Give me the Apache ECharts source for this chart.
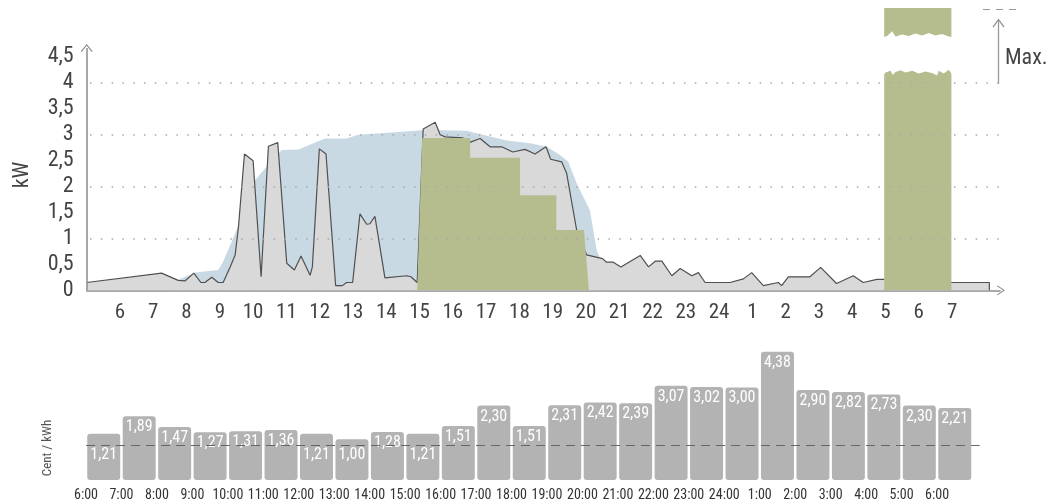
<!DOCTYPE html>
<html><head><meta charset="utf-8">
<script src="https://cdn.jsdelivr.net/npm/echarts@6/dist/echarts.min.js"></script>
<style>html,body{margin:0;padding:0;background:#fff}#c{width:1062px;height:502px}</style>
</head><body><div id="c"></div>
<script>
// ---------- data ----------
var FONT = "'Liberation Sans Narrow','Roboto Condensed','Open Sans',sans-serif";
// top chart: hours (5 = 5:00 day 1, 29 = 5:00 next day), kW
var consumption = [[5.0,0.15],[7.25,0.33],[7.75,0.19],[7.95,0.18],[8.22,0.33],[8.43,0.15],[8.55,0.15],[8.76,0.25],[8.95,0.15],[9.1,0.15],[9.31,0.45],[9.46,0.68],[9.56,1.22],[9.74,2.62],[10.0,2.49],[10.24,0.26],[10.46,2.77],[10.74,2.84],[11.01,0.52],[11.24,0.39],[11.44,0.66],[11.71,0.29],[11.78,0.45],[11.99,2.72],[12.19,2.62],[12.48,0.09],[12.68,0.09],[12.81,0.15],[12.99,0.15],[13.21,1.47],[13.41,1.27],[13.51,1.28],[13.66,1.42],[13.96,0.24],[14.62,0.28],[14.74,0.26],[14.93,0.15],[15.11,3.1],[15.47,3.23],[15.62,2.99],[15.77,2.95],[16.3,2.93],[16.53,2.85],[16.82,2.92],[17.12,2.76],[17.47,2.76],[17.8,2.66],[18.17,2.71],[18.47,2.62],[18.8,2.76],[18.94,2.52],[19.27,2.47],[19.42,2.25],[19.72,1.16],[20.02,0.68],[20.5,0.61],[20.62,0.54],[20.82,0.54],[21.05,0.45],[21.63,0.67],[21.88,0.45],[22.08,0.56],[22.28,0.56],[22.58,0.28],[22.83,0.42],[23.18,0.28],[23.38,0.34],[23.58,0.15],[24.33,0.15],[24.73,0.22],[24.98,0.34],[25.33,0.09],[25.78,0.15],[25.88,0.09],[26.08,0.26],[26.73,0.26],[27.05,0.44],[27.53,0.13],[28.03,0.28],[28.33,0.15],[28.74,0.21],[28.99,0.21],[29.2,0.15],[30.97,0.15],[32.12,0.15],[32.12,0]];
var pvForecast = [[7.6,0],[7.65,0.18],[8.26,0.34],[8.95,0.39],[9.1,0.55],[9.5,1.16],[10.06,2.12],[10.46,2.42],[10.86,2.7],[11.36,2.71],[12.16,2.92],[12.81,2.92],[13.16,2.99],[14.06,3.03],[15.07,3.08],[15.62,3.08],[16.41,3.07],[17.02,2.97],[17.62,2.88],[18.32,2.83],[18.82,2.76],[19.22,2.6],[19.47,2.47],[19.72,2.06],[19.92,1.8],[20.12,1.54],[20.22,1.16],[20.32,0.78],[20.42,0.62],[20.5,0]];
var loadShift = [[14.93,0],[15.08,2.93],[16.52,2.93],[16.52,2.55],[18.02,2.55],[18.02,1.83],[19.11,1.83],[19.11,1.16],[19.94,1.16],[20.09,0]];
var nightCharge = [[28.96,0],[28.96,5.43],[30.98,5.43],[30.98,0]];
var breakLow  = [[28.9,4.1],[29.0,4.19],[29.15,4.22],[29.22,4.14],[29.3,4.2],[29.45,4.23],[29.6,4.19],[29.8,4.22],[30.0,4.17],[30.2,4.21],[30.4,4.18],[30.55,4.13],[30.6,4.22],[30.75,4.17],[30.9,4.24],[31.05,4.1]];
var breakHigh = [[28.9,4.86],[29.05,4.89],[29.2,4.98],[29.3,4.88],[29.5,4.92],[29.7,4.89],[29.9,4.94],[30.1,4.9],[30.3,4.95],[30.5,4.9],[30.7,4.93],[30.9,4.88],[31.05,4.86]];
var kwTicks = [0,0.5,1,1.5,2,2.5,3,3.5,4,4.5];
var kwGrid = [1,2,3,4];
var hourTicks = [6,7,8,9,10,11,12,13,14,15,16,17,18,19,20,21,22,23,24,25,26,27,28,29,30,31];
// bottom chart: price per hour
var priceHours = ['6:00','7:00','8:00','9:00','10:00','11:00','12:00','13:00','14:00','15:00','16:00','17:00','18:00','19:00','20:00','21:00','22:00','23:00','24:00','1:00','2:00','3:00','4:00','5:00','6:00'];
var prices = [1.21,1.89,1.47,1.27,1.31,1.36,1.21,1.00,1.28,1.21,1.51,2.30,1.51,2.31,2.42,2.39,3.07,3.02,3.00,4.38,2.90,2.82,2.73,2.30,2.21];
var priceRef = 0.78;
var PRICE_MIN = -0.577;

var chevron = 'path://M0,9 L6,0 L12,9 L11,9.8 L6,2.2 L1,9.8 Z';
var AX = '#8c8c8c';

var chart = echarts.init(document.getElementById('c'), null, {renderer:'canvas'});
var fmt = function(v){ return String(v).replace('.', ','); };

var option = {
  animation: false,
  grid: [
    {left: 86.7, right: 62, top: 4.3, bottom: 211.7},
    {left: 86, right: 82.4, top: 335.7, bottom: 21.3}
  ],
  xAxis: [
    {gridIndex:0, type:'value', min:5, max:32.44, interval:1,
     axisLine:{show:true, lineStyle:{color:AX, width:1.5}, symbol:['none', chevron], symbolSize:[12,8], symbolOffset:[0,1]},
     axisTick:{show:true, inside:true, length:7, lineStyle:{color:AX, width:1.2}, customValues: hourTicks},
     axisLabel:{show:true, customValues: hourTicks, margin:12, color:'#444', fontSize:21, fontFamily:FONT,
       formatter:function(v){ return String(v > 24 ? v - 24 : v); }},
     splitLine:{show:false}},
    {gridIndex:1, type:'value', min:0, max:25.2, interval:1,
     axisLine:{show:false}, axisTick:{show:false}, splitLine:{show:false},
     axisLabel:{show:true, customValues: priceHours.map(function(_,i){return i;}), margin:8, color:'#333', fontSize:14, fontFamily:FONT,
       formatter:function(v){ return priceHours[v] || ''; }}}
  ],
  yAxis: [
    {gridIndex:0, type:'value', min:0, max:5.5, interval:0.5,
     axisLine:{show:false}, axisTick:{show:false}, splitLine:{show:false},
     axisLabel:{customValues: kwTicks, margin:13, color:'#444', fontSize:22, fontFamily:FONT, formatter:fmt}},
    {gridIndex:1, type:'value', min:PRICE_MIN, max:5, show:false}
  ],
  graphic: [
    {type:'text', x:22, y:175, rotation:Math.PI/2, style:{text:'kW', fill:'#444', font:'22px '+FONT, align:'center', verticalAlign:'middle'}},
    {type:'text', x:48, y:448, rotation:Math.PI/2, style:{text:'Cent / kWh', fill:'#555', font:'13px '+FONT, align:'center', verticalAlign:'middle'}},
    {type:'line', shape:{x1:983, y1:9.5, x2:1021, y2:9.5}, style:{stroke:'#999', lineWidth:1.2, lineDash:[7,6]}},
    {type:'line', shape:{x1:998.5, y1:84, x2:998.5, y2:20}, style:{stroke:'#999', lineWidth:1.3}},
    {type:'polyline', shape:{points:[[993,27],[998.5,19.5],[1004,27]]}, style:{stroke:'#999', lineWidth:1.3, fill:null}},
    {type:'text', x:1005, y:58, style:{text:'Max.', fill:'#444', font:'22px '+FONT, align:'left', verticalAlign:'middle'}}
  ],
  series: [
    // dotted grid lines
    {type:'line', xAxisIndex:0, yAxisIndex:0, z:1, data:[], symbol:'none', silent:true,
     markLine:{silent:true, symbol:['none','none'], label:{show:false},
       lineStyle:{color:'#a8a8a8', width:1.5, type:[1.5,9.3]},
       data: kwGrid.map(function(g){ return [{coord:[5.1,g]},{coord:[32.44,g]}]; })}},
    // PV forecast
    {type:'line', name:'pv', xAxisIndex:0, yAxisIndex:0, z:2, data:pvForecast, symbol:'none', silent:true,
     lineStyle:{width:0}, areaStyle:{color:'#c8d9e3', opacity:1}},
    // consumption
    {type:'line', name:'consumption', xAxisIndex:0, yAxisIndex:0, z:3, data:consumption, symbol:'none', silent:true,
     lineStyle:{color:'#505050', width:1.2}, areaStyle:{color:'#d9d9d9', opacity:1}},
    // shifted load
    {type:'line', name:'shift', xAxisIndex:0, yAxisIndex:0, z:4, data:loadShift, symbol:'none', silent:true,
     lineStyle:{width:0}, areaStyle:{color:'#b5bd8f', opacity:1}},
    {type:'line', name:'night', xAxisIndex:0, yAxisIndex:0, z:4, data:nightCharge, symbol:'none', silent:true,
     lineStyle:{width:0}, areaStyle:{color:'#b5bd8f', opacity:1}},
    // break of the tall bar
    {type:'custom', xAxisIndex:0, yAxisIndex:0, z:5, silent:true, data:[[0]],
     renderItem:function(params, api){
       var pts = breakLow.map(function(p){ return api.coord(p); });
       var hi = breakHigh.slice().reverse().map(function(p){ return api.coord(p); });
       return {type:'polygon', shape:{points: pts.concat(hi)}, style:{fill:'#ffffff'}};
     }},
    // y axis line with arrow
    {type:'line', xAxisIndex:0, yAxisIndex:0, z:6, data:[], symbol:'none', silent:true,
     markLine:{silent:true, symbol:['none', chevron], symbolSize:[12,8], label:{show:false},
       lineStyle:{color:AX, width:1.5, type:'solid'},
       data:[[{coord:[5,0]},{coord:[5,4.66]}]]}},
    // price bars
    {type:'custom', xAxisIndex:1, yAxisIndex:1, z:2, silent:true,
     data: prices.map(function(v,i){ return [i + 0.5, v]; }),
     renderItem:function(params, api){
       var x = api.value(0), v = api.value(1);
       var top = api.coord([x, v]);
       var bot = api.coord([x, PRICE_MIN]);
       var w = api.size([1,0])[0] * 0.93;
       var refY = api.coord([x, priceRef])[1];
       var ly = v < 1.25 ? refY + 10 : top[1] + 11;
       return {type:'group', children:[
         {type:'rect', shape:{x: top[0]-w/2, y: top[1], width: w, height: bot[1]-top[1], r:3}, style:{fill:'#b3b3b3'}},
         {type:'text', x: top[0], y: ly, z2: 10, style:{text: v.toFixed(2).replace('.', ','), fill:'#ffffff', font:'16px '+FONT, align:'center', verticalAlign:'middle'}}
       ]};
     }},
    // reference dashed line
    {type:'line', xAxisIndex:1, yAxisIndex:1, z:5, data:[], symbol:'none', silent:true,
     markLine:{silent:true, symbol:['none','none'], label:{show:false},
       lineStyle:{color:'#666', width:1.2, type:[9,6]},
       data:[[{coord:[0,priceRef]},{coord:[25.2,priceRef]}]]}}
  ]
};
chart.setOption(option);
</script>
</body></html>
